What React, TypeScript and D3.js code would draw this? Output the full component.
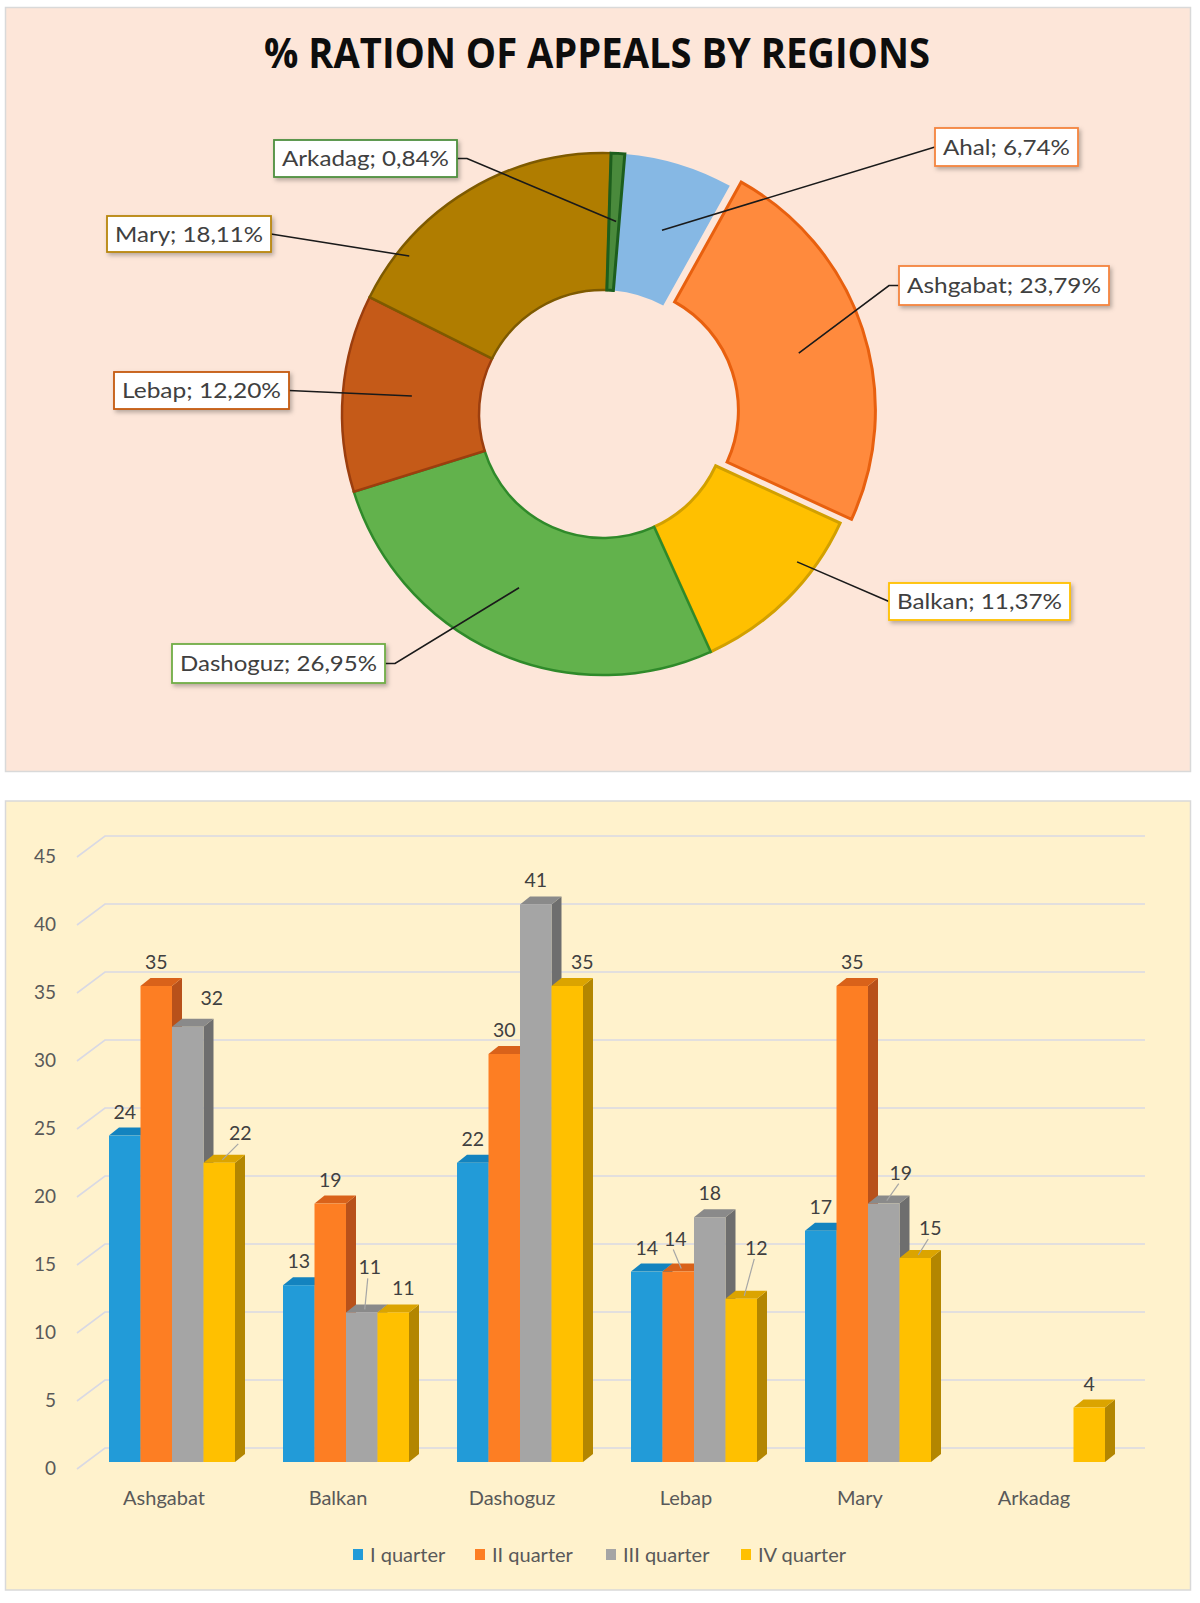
import React from 'react';
import * as d3 from 'd3';

// ---------- Donut data ----------
const regions = ['Ahal', 'Ashgabat', 'Balkan', 'Dashoguz', 'Lebap', 'Mary', 'Arkadag'];
const shares = [6.74, 23.79, 11.37, 26.95, 12.2, 18.11, 0.84];
const shareLabels = ['6,74%', '23,79%', '11,37%', '26,95%', '12,20%', '18,11%', '0,84%'];

// ---------- Bar data ----------
const categories = ['Ashgabat', 'Balkan', 'Dashoguz', 'Lebap', 'Mary', 'Arkadag'];
const seriesNames = ['I quarter', 'II quarter', 'III quarter', 'IV quarter'];
const q1: (number | null)[] = [24, 13, 22, 14, 17, null];
const q2: (number | null)[] = [35, 19, 30, 14, 35, null];
const q3: (number | null)[] = [32, 11, 41, 18, 19, null];
const q4: (number | null)[] = [22, 11, 35, 12, 15, 4];
const yTicks = [0, 5, 10, 15, 20, 25, 30, 35, 40, 45];

// ---------- Styles ----------
const sliceStyle: Record<string, { fill: string; stroke: string; sw: number; box: string }> = {
  Ahal: { fill: '#86B8E4', stroke: 'none', sw: 0, box: '#F4843F' },
  Ashgabat: { fill: '#FF8A3D', stroke: '#E8600F', sw: 3, box: '#F4843F' },
  Balkan: { fill: '#FFC000', stroke: '#D2A000', sw: 3, box: '#FFC000' },
  Dashoguz: { fill: '#62B24C', stroke: '#2F8A2A', sw: 2.5, box: '#70AD47' },
  Lebap: { fill: '#C55A18', stroke: '#9C3E0E', sw: 2.5, box: '#C55A11' },
  Mary: { fill: '#B07D00', stroke: '#7E5A00', sw: 2.5, box: '#B8860B' },
  Arkadag: { fill: '#4A8A3C', stroke: '#1D5E1D', sw: 3, box: '#4E8F3F' },
};

// label box layout (x, y, w, h), leader anchor (angle deg, radius), elbow length
const donutLabelLayout: Record<string, { box: [number, number, number, number]; anchor: [number, number]; elbow: number }> = {
  Arkadag: { box: [274, 140, 183, 37], anchor: [3.9, 193], elbow: 10 },
  Mary: { box: [107, 216, 164, 36], anchor: [309.2, 250], elbow: 0 },
  Lebap: { box: [114, 372, 175, 37], anchor: [275.4, 192], elbow: 0 },
  Dashoguz: { box: [172, 644, 213, 39], anchor: [205.8, 193], elbow: 10 },
  Ahal: { box: [935, 128, 143, 38], anchor: [17.8, 193], elbow: 0 },
  Ashgabat: { box: [899, 266, 210, 39], anchor: [72.8, 193], elbow: 10 },
  Balkan: { box: [889, 583, 181, 37], anchor: [127.3, 244], elbow: 0 },
};

const frontColors = ['#229BD8', '#FD7E23', '#A5A5A5', '#FFC000'];
const topColors = ['#1383BF', '#D9621A', '#8A8A8A', '#DBA400'];
const sideColors = ['#116E9E', '#B8511A', '#6E6E6E', '#B38600'];

const labelNudge: Record<string, [number, number, boolean]> = {
  'Ashgabat|III quarter': [24, -5, false],
  'Ashgabat|IV quarter': [21, -6, true],
  'Balkan|III quarter': [8, -21, true],
  'Balkan|IV quarter': [10, 0, false],
  'Dashoguz|IV quarter': [15, 0, false],
  'Lebap|II quarter': [-3, -9, true],
  'Lebap|IV quarter': [15, -27, true],
  'Mary|III quarter': [17, -7, true],
  'Mary|IV quarter': [15, -6, true],
};

const W = 1200;
const H = 1603;
const FONT = 'Lato, "Open Sans", sans-serif';
const TXT = '#404040';
const AX = '#595959';

function Donut() {
  const cx = 603, cy = 414, R = 261, r = 124, explode = 12;
  const rot = (4.8 * Math.PI) / 180;
  const pie = d3.pie<number>().sort(null).value((d) => d).startAngle(rot).endAngle(rot + 2 * Math.PI);
  const arcs = pie(shares);
  const arc = d3.arc<d3.PieArcDatum<number>>().innerRadius(r).outerRadius(R);
  const offsetOf = (name: string, a: d3.PieArcDatum<number>) => {
    if (name !== 'Ashgabat') return [0, 0];
    const m = (a.startAngle + a.endAngle) / 2;
    return [Math.sin(m) * explode, -Math.cos(m) * explode];
  };
  return (
    <g>
      {arcs.map((a, i) => {
        const name = regions[i];
        const st = sliceStyle[name];
        const [ox, oy] = offsetOf(name, a);
        return (
          <g key={name} transform={`translate(${cx + ox},${cy + oy})`}>
            <path d={arc(a) || ''} fill={st.fill} stroke={st.stroke} strokeWidth={st.sw} strokeLinejoin="miter" />
          </g>
        );
      })}
      {arcs.map((a, i) => {
        const name = regions[i];
        const L = donutLabelLayout[name];
        const [ox, oy] = offsetOf(name, a);
        const ang = (L.anchor[0] * Math.PI) / 180;
        const ax = cx + ox + L.anchor[1] * Math.sin(ang);
        const ay = cy + oy - L.anchor[1] * Math.cos(ang);
        const [bx, by, bw, bh] = L.box;
        const leftSide = bx + bw / 2 < cx;
        const ex = leftSide ? bx + bw : bx;
        const ey = by + bh / 2;
        const elx = leftSide ? ex + L.elbow : ex - L.elbow;
        return (
          <polyline
            key={name + '-l'}
            points={`${ex},${ey} ${elx},${ey} ${ax},${ay}`}
            fill="none"
            stroke="#1a1a1a"
            strokeWidth={1.6}
          />
        );
      })}
      {regions.map((name, i) => {
        const L = donutLabelLayout[name];
        const [bx, by, bw, bh] = L.box;
        const st = sliceStyle[name];
        const label = `${name}; ${shareLabels[i]}`;
        return (
          <g key={name + '-b'}>
            <rect x={bx} y={by} width={bw} height={bh} fill="#fff" stroke={st.box} strokeWidth={1.8} filter="url(#shadow)" />
            <text
              x={bx + bw / 2}
              y={by + bh / 2 + 7.5}
              textAnchor="middle"
              fontFamily={FONT}
              fontSize={22}
              fill={TXT}
              textLength={bw - 16}
              lengthAdjust="spacingAndGlyphs"
            >
              {label}
            </text>
          </g>
        );
      })}
    </g>
  );
}

function Bars() {
  const series = [q1, q2, q3, q4];
  const y = d3.scaleLinear().domain([0, 45]).range([1462, 850]);
  const x0 = d3.scaleBand().domain(categories).range([85, 1129]).paddingInner(48 / 174).paddingOuter(24 / 174);
  const x1 = d3.scaleBand().domain(seriesNames).range([0, x0.bandwidth()]).padding(0);
  const dx = 10, dy = 8;
  const wallDy = -14, labDy = 7;
  const gx0 = 77, gx1 = 105, gx2 = 1145;
  const base = y(0);

  const bars: React.ReactNode[] = [];
  const labels: React.ReactNode[] = [];
  categories.forEach((c, ci) => {
    seriesNames.forEach((s, si) => {
      const v = series[si][ci];
      if (v == null) return;
      const xa = (x0(c) || 0) + (x1(s) || 0);
      const w = x1.bandwidth();
      const xb = xa + w;
      const yt = y(v);
      bars.push(
        <g key={c + s}>
          <polygon points={`${xb},${yt} ${xb + dx},${yt - dy} ${xb + dx},${base - dy} ${xb},${base}`} fill={sideColors[si]} />
          <polygon points={`${xa},${yt} ${xa + dx},${yt - dy} ${xb + dx},${yt - dy} ${xb},${yt}`} fill={topColors[si]} />
          <rect x={xa} y={yt} width={w} height={base - yt} fill={frontColors[si]} />
        </g>
      );
      const fc = xa + w / 2;
      const n = labelNudge[`${c}|${s}`] || [0, 0, false];
      const lx = fc + n[0];
      const ly = yt - 24 + n[1];
      if (n[2]) {
        labels.push(
          <line key={c + s + 'll'} x1={lx - 2} y1={ly + 11} x2={fc + 3} y2={yt - 3} stroke="#A6A6A6" strokeWidth={1.2} />
        );
      }
      labels.push(
        <text key={c + s + 't'} x={lx} y={ly + 7} textAnchor="middle" fontFamily={FONT} fontSize={19.5} fill={TXT}>
          {v}
        </text>
      );
    });
  });

  return (
    <g>
      {yTicks.map((t) => (
        <g key={'g' + t}>
          <polyline
            points={`${gx0},${y(t) + labDy} ${gx1},${y(t) + wallDy} ${gx2},${y(t) + wallDy}`}
            fill="none"
            stroke="#D9D9E4"
            strokeWidth={1.6}
          />
          <text x={56} y={y(t) + labDy + 6} textAnchor="end" fontFamily={FONT} fontSize={19} fill={AX}>
            {t}
          </text>
        </g>
      ))}
      {bars}
      {labels}
      {categories.map((c) => (
        <text
          key={'c' + c}
          x={(x0(c) || 0) + x0.bandwidth() / 2 - 8}
          y={1505}
          textAnchor="middle"
          fontFamily={FONT}
          fontSize={20}
          fill={AX}
        >
          {c}
        </text>
      ))}
      {seriesNames.map((s, i) => {
        const lx = [353, 475, 606, 741][i];
        return (
          <g key={'lg' + s}>
            <rect x={lx} y={1549} width={10} height={11} fill={frontColors[i]} />
            <text x={lx + 17} y={1562} fontFamily={FONT} fontSize={20} fill={AX}>
              {s}
            </text>
          </g>
        );
      })}
    </g>
  );
}

export default function App() {
  return (
    <svg
      width={W}
      height={H}
      viewBox={`0 0 ${W} ${H}`}
      style={{ position: 'absolute', left: 0, top: 0, background: '#fff' }}
    >
      <defs>
        <filter id="shadow" x="-10%" y="-20%" width="130%" height="160%">
          <feDropShadow dx="2" dy="2.5" stdDeviation="2" floodColor="#000" floodOpacity="0.28" />
        </filter>
      </defs>
      <rect x={5.5} y={7.5} width={1185} height={764} fill="#FDE6D9" stroke="#D9D9D9" strokeWidth={1.5} />
      <rect x={5.5} y={801} width={1185} height={789} fill="#FFF2CC" stroke="#D9D9D9" strokeWidth={1.5} />
      <text
        x={597}
        y={68}
        textAnchor="middle"
        fontFamily='"Open Sans", sans-serif'
        fontWeight={700}
        fontSize={42}
        fill="#0D0D0D"
        textLength={666}
        lengthAdjust="spacingAndGlyphs"
      >
        % RATION OF APPEALS BY REGIONS
      </text>
      <Donut />
      <Bars />
    </svg>
  );
}
